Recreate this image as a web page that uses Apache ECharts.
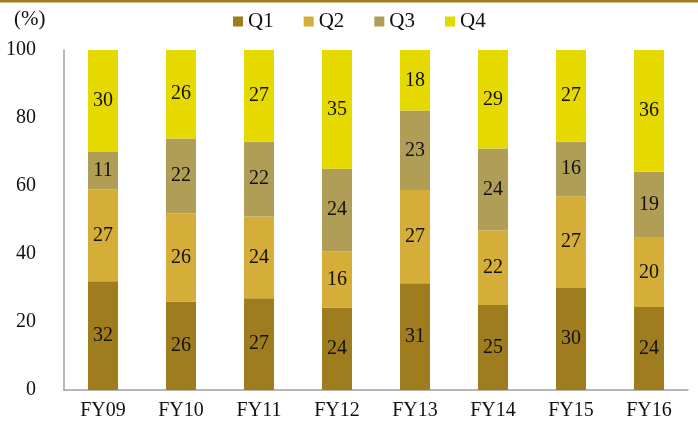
<!DOCTYPE html>
<html>
<head>
<meta charset="utf-8">
<script src="https://cdn.jsdelivr.net/npm/echarts@6/dist/echarts.min.js"></script>
<style>html,body{margin:0;padding:0;background:#fff}#c{width:698px;height:430px}</style>
</head>
<body>
<div id="c"></div>
<script>
const categories = ['FY09','FY10','FY11','FY12','FY13','FY14','FY15','FY16'];
const seriesNames = ['Q1','Q2','Q3','Q4'];
const q1 = [32, 26, 27, 24.3, 31.4, 25, 30, 24.4];
const q2 = [27, 26, 24, 16.4, 27.4, 22, 27, 20.4];
const q3 = [11, 22, 22, 24.4, 23.4, 24, 16, 19.4];
const q4 = [30, 26, 27, 34.9, 17.8, 29, 27, 35.8];
const yTicks = [0, 20, 40, 60, 80, 100];
const colors = ['#9f7d1f', '#d5ae3a', '#b19e56', '#e6d900'];
const font = 'Liberation Serif';

const chart = echarts.init(document.getElementById('c'));
const data = [q1, q2, q3, q4];
chart.setOption({
  animation: false,
  textStyle: { fontFamily: font },
  graphic: [
    { type: 'rect', shape: { x: 0, y: 0, width: 698, height: 2.5 }, style: { fill: '#9f7d1f' } },
    { type: 'text', left: 14, top: 9, style: { text: '(%)', font: '21px "Liberation Serif"', fill: '#111' } }
  ],
  legend: {
    top: 6, left: 228,
    itemWidth: 10, itemHeight: 10, itemGap: 30,
    icon: 'rect',
    textStyle: { fontFamily: font, fontSize: 21, color: '#111' },
    data: seriesNames
  },
  grid: { left: 64, right: 10, top: 50, bottom: 40 },
  xAxis: {
    type: 'category', data: categories,
    axisLine: { lineStyle: { color: '#a0a0a0', width: 1.5 } },
    axisTick: { show: false },
    axisLabel: { fontFamily: font, fontSize: 20, color: '#111', margin: 11 }
  },
  yAxis: {
    type: 'value', min: 0, max: 100, interval: 20,
    axisLine: { show: true, lineStyle: { color: '#a0a0a0', width: 1.5 } },
    axisTick: { show: false },
    splitLine: { show: false },
    axisLabel: { fontFamily: font, fontSize: 20, color: '#111', margin: 28,
      formatter: v => yTicks.includes(v) ? String(v) : '' }
  },
  series: seriesNames.map((n, i) => ({
    name: n, type: 'bar', stack: 'all',
    barWidth: 30,
    itemStyle: { color: colors[i] },
    label: { show: true, position: 'inside', fontFamily: font, fontSize: 20, color: '#111',
      formatter: p => String(Math.round(p.value)) },
    data: data[i]
  }))
});
</script>
</body>
</html>
